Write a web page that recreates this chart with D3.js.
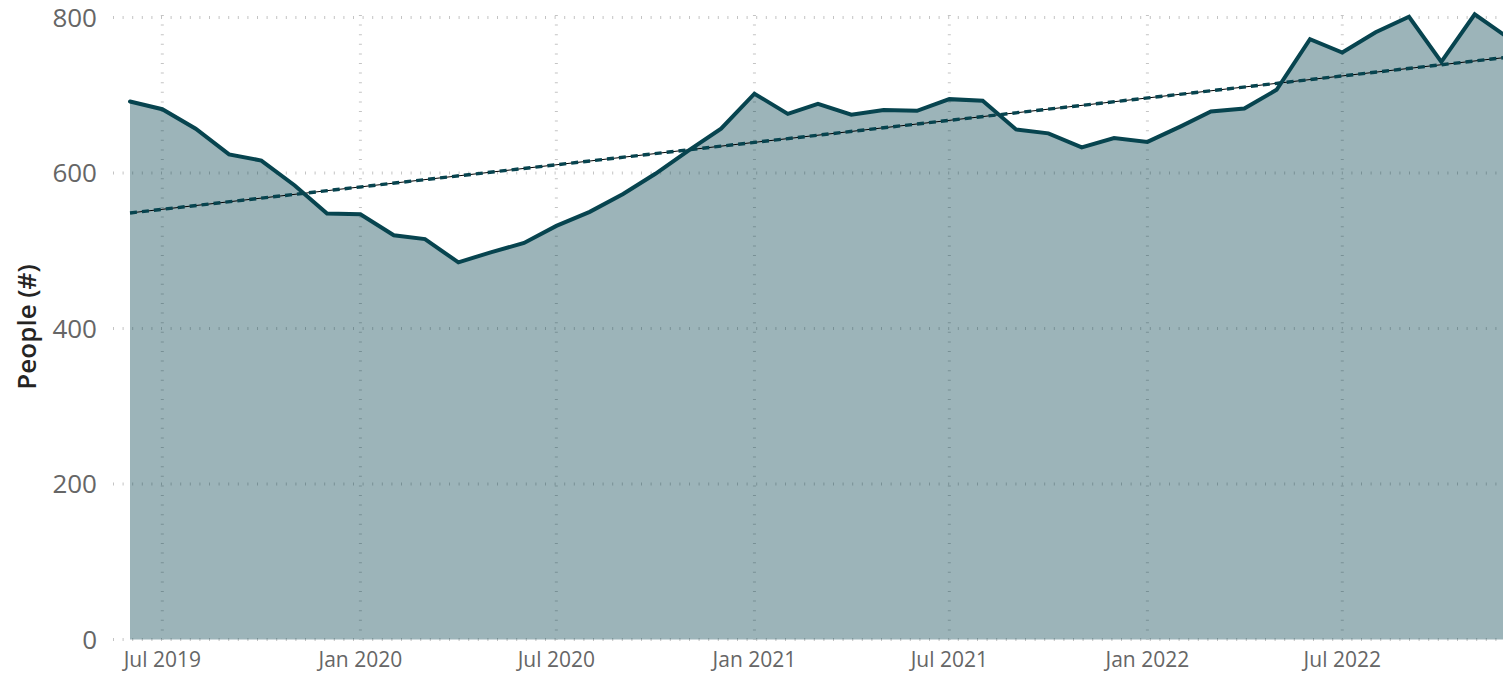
<!DOCTYPE html>
<html>
<head>
<meta charset="utf-8">
<script src="https://cdn.jsdelivr.net/npm/d3@7"></script>
<style>
  html, body { margin: 0; padding: 0; background: #fff; }
  svg { display: block; font-family: "Open Sans", "Noto Sans", sans-serif; }
</style>
</head>
<body>
<svg id="chart" width="1503" height="674"></svg>
<script>
// ---- data (monthly, Jun 2019 – Dec 2022) ----
const startMonth = [2019, 5];           // year, month index (June 2019)
const people = [
  692, 682, 657, 624, 616, 584, 548,
  547, 520, 515, 485, 498, 510, 532, 550, 573, 599, 629, 657,
  702, 676, 689, 675, 681, 680, 695, 693, 656, 651, 633, 645,
  640, 660, 679, 683, 707, 772, 755, 781, 801, 743, 804, 775
];
const xTickLabels = ["Jul 2019", "Jan 2020", "Jul 2020", "Jan 2021", "Jul 2021", "Jan 2022", "Jul 2022"];
const xTickDates = [[2019,6],[2020,0],[2020,6],[2021,0],[2021,6],[2022,0],[2022,6]];
const yTicks = [0, 200, 400, 600, 800];
const yTitle = "People (#)";

// ---- build data ----
const data = people.map((v, i) => ({ date: new Date(startMonth[0], startMonth[1] + i, 1), value: v, i }));

const W = 1503, H = 674;
const svg = d3.select("#chart");

const x = d3.scaleTime()
  .domain([data[0].date, data[data.length - 1].date])
  .range([130, 1507]);
const y = d3.scaleLinear().domain([0, 800]).range([639.5, 17.5]);

const lineColor = "#07444f";
const gridColor = "#c4c4c4";
const textGray = "#666666";

// ---- gridlines ----
const grid = svg.append("g");
grid.selectAll("line.h").data(yTicks).join("line")
  .attr("x1", 113).attr("x2", W)
  .attr("y1", d => y(d)).attr("y2", d => y(d))
  .attr("stroke", gridColor).attr("stroke-width", 3)
  .attr("stroke-dasharray", "1 8.6");
grid.selectAll("line.v").data(xTickDates).join("line")
  .attr("x1", d => x(new Date(d[0], d[1], 1))).attr("x2", d => x(new Date(d[0], d[1], 1)))
  .attr("y1", 15).attr("y2", y(0))
  .attr("stroke", gridColor).attr("stroke-width", 3)
  .attr("stroke-dasharray", "1 8.6");

// ---- area ----
svg.append("path").datum(data)
  .attr("d", d3.area().x(d => x(d.date)).y0(y(0)).y1(d => y(d.value)))
  .attr("fill", lineColor).attr("fill-opacity", 0.4);

// ---- trend line (least squares) ----
const n = data.length;
const mx = d3.mean(data, d => d.i), my = d3.mean(data, d => d.value);
const slope = d3.sum(data, d => (d.i - mx) * (d.value - my)) / d3.sum(data, d => (d.i - mx) ** 2);
const icpt = my - slope * mx;
const trend = [data[0], data[n - 1]].map(d => ({ date: d.date, value: icpt + slope * d.i }));
const tl = d3.line().x(d => x(d.date)).y(d => y(d.value));
svg.append("path").datum(trend).attr("d", tl)
  .attr("fill", "none").attr("stroke", "#000").attr("stroke-width", 1);
svg.append("path").datum(trend).attr("d", tl)
  .attr("fill", "none").attr("stroke", lineColor).attr("stroke-width", 3.4)
  .attr("stroke-dasharray", "7 5");

// ---- main line ----
svg.append("path").datum(data)
  .attr("d", d3.line().x(d => x(d.date)).y(d => y(d.value)))
  .attr("fill", "none").attr("stroke", lineColor).attr("stroke-width", 4)
  .attr("stroke-linejoin", "miter").attr("stroke-linecap", "round");

// ---- axes labels ----
svg.append("g").selectAll("text").data(yTicks).join("text")
  .attr("x", 97).attr("y", d => y(d)).attr("dy", "0.36em")
  .attr("text-anchor", "end").attr("font-size", 26).attr("fill", textGray)
  .text(d => d);

svg.append("g").selectAll("text").data(xTickDates).join("text")
  .attr("x", d => x(new Date(d[0], d[1], 1))).attr("y", 667)
  .attr("text-anchor", "middle").attr("font-size", 21).attr("fill", textGray)
  .text((d, i) => xTickLabels[i]);

svg.append("text")
  .attr("transform", "translate(36,327) rotate(-90)")
  .attr("text-anchor", "middle").attr("font-size", 26).attr("font-weight", 600)
  .attr("fill", "#252423")
  .text(yTitle);
</script>
</body>
</html>
